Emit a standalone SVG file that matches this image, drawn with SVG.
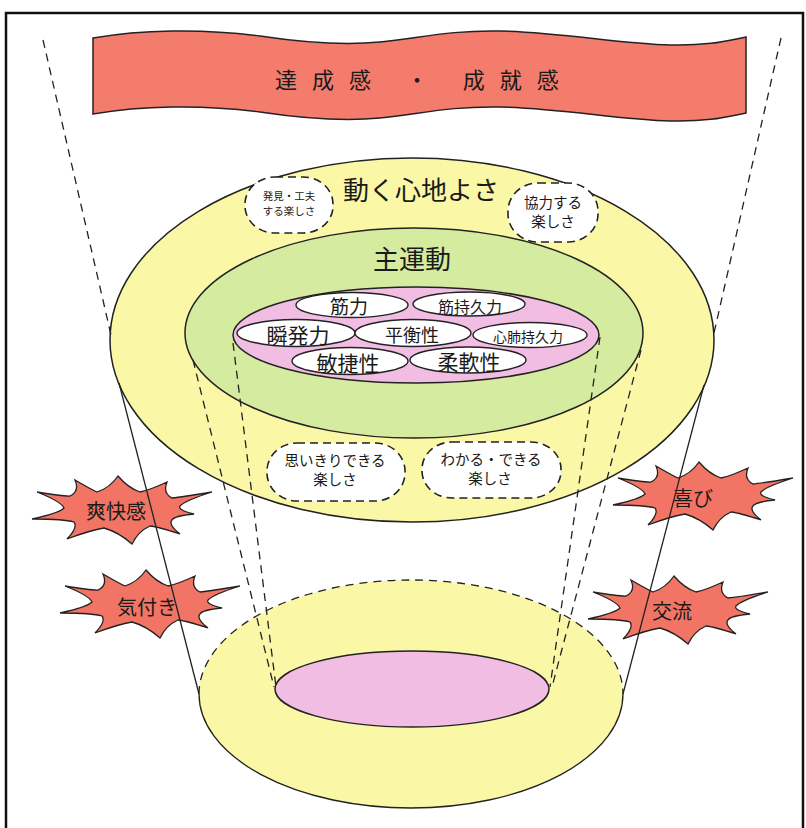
<svg xmlns="http://www.w3.org/2000/svg" xmlns:xlink="http://www.w3.org/1999/xlink" width="806" height="828" viewBox="0 0 806 828">
<style>
text{font-family:"Noto Sans CJK JP","Noto Sans",sans-serif;fill:#1a1a1a;text-anchor:middle}
.ln{stroke:#222;stroke-width:1.3;fill:none}
.dash{stroke:#222;stroke-width:1.3;fill:none;stroke-dasharray:8 6}
.bub{fill:#fff;stroke:#222;stroke-width:1.6;stroke-dasharray:8 5}
.wel{fill:#fff;stroke:#222;stroke-width:1.4}
.ol{stroke:#222;stroke-width:1.5}
.star{fill:#f27464;stroke:#222;stroke-width:1.3}
</style>
<defs>
<path id="burst" d="M-58,-2 Q-60.8,-8.5 -85,-18 Q-58.2,-13.6 -52,-14 Q-42.1,-18.7 -47,-30 Q-30.6,-20.4 -25,-18 Q-12.3,-22.1 -4,-34 Q6,-22.1 18,-18 Q26.8,-19.6 45,-28 Q40.4,-17 50,-12 Q59.5,-12.8 90,-18 Q62.9,-9.4 58,-4 Q55.3,0 72,4 Q51.9,6 50,10 Q45.9,14.5 58,24 Q36.6,17 28,16 Q16.2,21.3 10,34 Q-3.4,22.1 -18,18 Q-31,20 -55,29 Q-43.8,17.4 -48,12 Q-58.7,8.9 -90,9 Q-62.9,3 -58,-2 Z"/>
</defs>
<rect width="806" height="828" fill="#fff"/>
<path d="M6,830 V13 H803 V830" fill="none" stroke="#111" stroke-width="2.5"/>

<g id="banner">
<path d="M93,38 C140,30 200,28 260,36 C300,42 340,46 380,42 C420,38 450,30 500,31 C560,32 620,44 670,45 C710,46 730,40 746,37 L746,113 C730,116 710,122 670,121 C620,120 560,108 500,107 C450,106 420,114 380,118 C340,122 300,118 260,112 C200,104 140,106 93,114 Z" fill="#f47c6c" stroke="#222" stroke-width="1.5"/>
<text x="275" y="88" font-size="22" letter-spacing="15" style="text-anchor:start">達成感 ・ 成就感</text>
</g>

<g id="base">
<ellipse cx="411" cy="694" rx="212" ry="114" fill="#faf7a6"/>
<path d="M199,694 A212,114 0 0 1 623,694" class="dash" stroke-width="1.5"/>
<path d="M623,694 A212,114 0 0 1 199,694" class="ln" stroke-width="1.5"/>
<ellipse cx="412" cy="689" rx="137" ry="38" fill="#f1bde3" class="ol"/>
</g>

<g id="outer">
<ellipse cx="412" cy="340" rx="302" ry="182" fill="#faf7a6" class="ol"/>
<text x="421" y="200" font-size="26">動く心地よさ</text>
</g>
<g id="main">
<ellipse cx="414" cy="333" rx="229" ry="105" fill="#d5eb9f" class="ol"/>
<text x="412" y="269" font-size="26">主運動</text>
</g>
<g id="core">
<ellipse cx="416" cy="335" rx="183" ry="48" fill="#f1bde3" class="ol"/>
</g>
<g id="n-kinryoku"><ellipse cx="352" cy="305" rx="56" ry="12.5" class="wel"/><text x="349" y="314" font-size="19">筋力</text></g>
<g id="n-kinjikyu"><ellipse cx="469" cy="304" rx="56" ry="12" class="wel"/><text x="470" y="313" font-size="16">筋持久力</text></g>
<g id="n-shunpatsu"><ellipse cx="296" cy="333" rx="59" ry="13.5" class="wel"/><text x="298" y="343" font-size="21">瞬発力</text></g>
<g id="n-heiko"><ellipse cx="413" cy="333" rx="58" ry="13.5" class="wel"/><text x="412" y="342" font-size="18">平衡性</text></g>
<g id="n-shinpai"><ellipse cx="530" cy="335" rx="57" ry="12.5" class="wel"/><text x="528" y="342" font-size="14">心肺持久力</text></g>
<g id="n-binsho"><ellipse cx="350" cy="361" rx="58" ry="13.5" class="wel"/><text x="348" y="371" font-size="21">敏捷性</text></g>
<g id="n-junan"><ellipse cx="468" cy="360" rx="58" ry="13" class="wel"/><text x="469" y="370" font-size="21">柔軟性</text></g>

<g id="b-hakken"><rect x="245" y="177" width="88" height="56" rx="30" ry="27" class="bub"/><text x="289" y="200" font-size="10.5">発見・工夫</text><text x="289" y="215" font-size="10.5">する楽しさ</text></g>
<g id="b-kyoryoku"><rect x="508" y="183" width="90" height="59" rx="30" ry="28" class="bub"/><text x="553" y="208" font-size="14.5">協力する</text><text x="553" y="227" font-size="14.5">楽しさ</text></g>
<g id="b-omoikiri"><rect x="267" y="443" width="138" height="58" rx="30" ry="28" class="bub"/><text x="335" y="466" font-size="14.5">思いきりできる</text><text x="335" y="485" font-size="14.5">楽しさ</text></g>
<g id="b-wakaru"><rect x="422" y="442" width="139" height="56" rx="30" ry="27" class="bub"/><text x="491" y="465" font-size="14.5">わかる・できる</text><text x="490" y="484" font-size="14.5">楽しさ</text></g>

<g id="s-sokai"><use xlink:href="#burst" x="122" y="510" class="star"/><text x="116" y="519" font-size="20">爽快感</text></g>
<g id="s-kizuki"><use xlink:href="#burst" x="150" y="604" class="star"/><text x="147" y="615" font-size="20">気付き</text></g>
<g id="s-yorokobi"><use xlink:href="#burst" x="703" y="496" class="star"/><text x="693" y="506" font-size="20">喜び</text></g>
<g id="s-koryu"><use xlink:href="#burst" x="678" y="610" class="star"/><text x="672" y="619" font-size="20">交流</text></g>

<g id="connectors">
<line x1="43" y1="40" x2="111" y2="335" class="dash"/>
<line x1="781" y1="38" x2="714" y2="333" class="dash"/>
<line x1="119" y1="383" x2="199" y2="694" class="ln"/>
<line x1="704" y1="385" x2="623" y2="694" class="ln"/>
<line x1="193" y1="360" x2="274" y2="687" class="dash"/>
<line x1="233" y1="343" x2="276" y2="687" class="dash"/>
<line x1="600" y1="337" x2="550" y2="687" class="dash"/>
<line x1="641" y1="350" x2="552" y2="687" class="dash"/>
</g>
</svg>
